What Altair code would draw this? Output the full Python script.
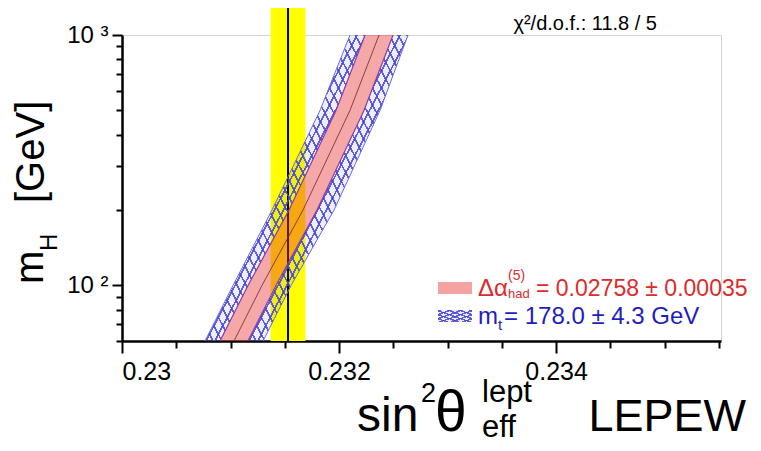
import altair as alt
import pandas as pd

FONT = "Liberation Sans"

# Higgs mass grid (GeV) and band edges in sin^2(theta_eff^lept)
mh = [60, 100, 200, 500, 1000]
blue_lo = [0.230765, 0.231023, 0.231382, 0.231825, 0.232101]
red_lo = [0.230903, 0.231161, 0.231539, 0.231972, 0.232240]
center = [0.231032, 0.231290, 0.231668, 0.232101, 0.232369]
red_hi = [0.231161, 0.231419, 0.231797, 0.232230, 0.232498]
blue_hi = [0.231300, 0.231558, 0.231954, 0.232378, 0.232636]

# measurement
meas_val = [0.23153]
meas_lo = [0.23137]
meas_hi = [0.23169]

x_ticks = [0.23, 0.2305, 0.231, 0.2315, 0.232, 0.2325, 0.233, 0.2335, 0.234, 0.2345, 0.235, 0.2355]
y_ticks = [60, 70, 80, 90, 100, 200, 300, 400, 500, 600, 700, 800, 900, 1000]

band = pd.DataFrame({"mh": mh, "blo": blue_lo, "rlo": red_lo, "c": center,
                     "rhi": red_hi, "bhi": blue_hi})
meas = pd.DataFrame({"x": meas_val, "lo": meas_lo, "hi": meas_hi})
dummy = pd.DataFrame({"a": [0]})

W, H = 599, 306
xs = alt.Scale(domain=[0.23, 0.23552], nice=False, zero=False)
ys = alt.Scale(type="log", domain=[60, 1000], nice=False)

xaxis = alt.Axis(values=x_ticks, title=None, grid=False,
                 labelExpr="round(datum.value*10000) % 20 == 0 ? format(datum.value, '~g') : ''",
                 tickSize={"condition": {"test": "round(datum.value*10000) % 20 == 0", "value": 12}, "value": 7},
                 domainColor="black", domainWidth=2.5, tickColor="black", tickWidth=2,
                 labelFont=FONT, labelFontSize=25, labelColor="black", labelPadding=6)
yaxis = alt.Axis(values=y_ticks, title=None, grid=False,
                 labelExpr="datum.value == 100 ? '10 \u00b2' : datum.value == 1000 ? '10 \u00b3' : ''",
                 tickSize={"condition": {"test": "datum.value == 100 || datum.value == 1000", "value": 10}, "value": 6},
                 domainColor="black", domainWidth=2.5, tickColor="black", tickWidth=2,
                 labelFont=FONT, labelFontSize=24, labelColor="black", labelPadding=4)


def X(f):
    return alt.X(f"{f}:Q", scale=xs, axis=xaxis)


def Y(f):
    return alt.Y(f"{f}:Q", scale=ys, axis=yaxis)


def hatch(flip, n, lw, color):
    """Striped linear gradient used as a hatch pattern."""
    clear = "rgba(255,255,255,0)"
    stops = []
    for i in range(n):
        s = i / n
        e = min(s + lw, 1.0)
        stops += [alt.GradientStop(offset=s, color=clear), alt.GradientStop(offset=s, color=color),
                  alt.GradientStop(offset=e, color=color), alt.GradientStop(offset=e, color=clear)]
    if flip:
        return alt.LinearGradient(gradient="linear", stops=stops, x1=1, y1=0, x2=0, y2=1)
    return alt.LinearGradient(gradient="linear", stops=stops, x1=0, y1=0, x2=1, y2=1)


yellow = alt.Chart(meas).mark_rect(color="#ffff00").encode(
    x=X("lo"), x2="hi:Q", y=alt.value(-35), y2=alt.value(H))
vline = alt.Chart(meas).mark_rule(color="black", strokeWidth=2).encode(
    x=X("x"), y=alt.value(-35), y2=alt.value(H))


def strip(lo, hi, fill, opacity=1.0):
    return alt.Chart(band).mark_area(color=fill, opacity=opacity, orient="horizontal").encode(
        x=X(lo), x2=f"{hi}:Q", y=Y("mh"))


BL = "rgba(70,70,215,0.85)"
blue_layers = []
for lo, hi in [("blo", "rlo"), ("rhi", "bhi")]:
    blue_layers.append(strip(lo, hi, "#5a5ad8", 0.10))
    blue_layers.append(strip(lo, hi, hatch(False, 36, 0.006, BL)))
    blue_layers.append(strip(lo, hi, hatch(True, 36, 0.006, BL)))

red = strip("rlo", "rhi", "#e83030", 0.42)


def edge(field, color, width):
    return alt.Chart(band).mark_line(color=color, strokeWidth=width).encode(
        x=X(field), y=Y("mh"), order="mh:Q")


def txt(s, x, y, size, color="black", align="left", angle=0):
    return alt.Chart(dummy).mark_text(text=s, align=align, baseline="alphabetic", angle=angle,
                                      fontSize=size, color=color, font=FONT).encode(
        x=alt.value(x), y=alt.value(y))


def swatch(y, fill, opacity=1.0):
    return alt.Chart(dummy).mark_rect(color=fill, opacity=opacity).encode(
        x=alt.value(316), x2=alt.value(350), y=alt.value(y), y2=alt.value(y + 12))


RED = "#dc2b2b"
BLUE = "#1e1ebe"

layers = [yellow, vline] + blue_layers + [
    red,
    edge("blo", "#6a6ae0", 1), edge("bhi", "#6a6ae0", 1),
    edge("rlo", "#8a3aa8", 1.2), edge("rhi", "#8a3aa8", 1.2), edge("c", "#7a2020", 0.8),
    swatch(247, "#e83030", 0.45),
    swatch(275, "#5a5ad8", 0.12),
    swatch(275, hatch(False, 6, 0.06, BL)),
    swatch(275, hatch(True, 6, 0.06, BL)),
    txt("\u03c7\u00b2/d.o.f.: 11.8 / 5", 535, -5, 20, align="right"),
    # y title
    txt("m", -79, 249, 40, angle=270),
    txt("H", -65, 216, 24, angle=270),
    txt("[GeV]", -78, 168, 40, angle=270),
    # x title
    txt("sin", 235, 396, 48),
    txt("2", 299, 367, 27),
    txt("\u03b8", 313, 396, 57),
    txt("lept", 360, 367, 31),
    txt("eff", 360, 402, 31),
    txt("LEPEW", 624, 396, 45, align="right"),
    # legend
    txt("\u0394\u03b1", 356, 261, 24, color=RED),
    txt("(5)", 386, 245, 14, color=RED),
    txt("had", 386, 263, 13, color=RED),
    txt("= 0.02758 \u00b1 0.00035", 414, 261, 23, color=RED),
    txt("m", 356, 289, 24, color=BLUE),
    txt("t", 376, 295, 15, color=BLUE),
    txt("= 178.0 \u00b1 4.3 GeV", 382, 289, 24, color=BLUE),
]

chart = alt.layer(*layers).properties(
    width=W, height=H,
    padding={"left": 114, "top": 27, "right": 32, "bottom": 102},
    autosize=alt.AutoSizeParams(type="none"),
).configure_view(stroke="#d4d4d4", strokeWidth=1)

chart.save("out.html", embed_options={"renderer": "svg", "actions": False})
